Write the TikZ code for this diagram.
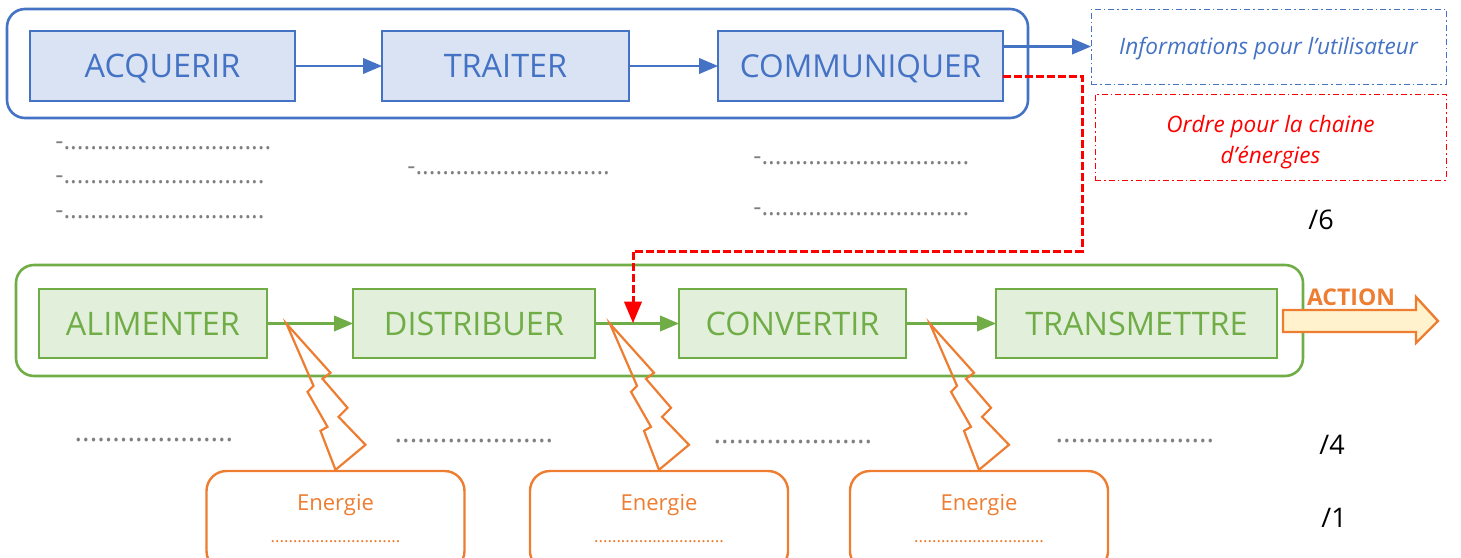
\documentclass[tikz,border=0pt]{standalone}
\usepackage{fontspec}
\setmainfont{Open Sans}
\usetikzlibrary{arrows}

\definecolor{bleu}{HTML}{4472C4}
\definecolor{bleuclair}{HTML}{DAE3F3}
\definecolor{vert}{HTML}{70AD47}
\definecolor{vertclair}{HTML}{E2EFDA}
\definecolor{orange}{HTML}{ED7D31}
\definecolor{orangeclair}{HTML}{FFF2CC}
\definecolor{gris}{HTML}{7F7F7F}

\tikzset{
  titre/.style={font=\fontsize{16.2}{18}\selectfont, inner sep=0pt, outer sep=0pt, text height=11.6pt, text depth=0pt},
  cadre/.style={draw=#1, line width=1.3pt, rounded corners=9pt, inner sep=0pt},
  blocbleu/.style={titre, draw=bleu, fill=bleuclair, text=bleu, line width=1.3pt, minimum height=35pt},
  blocvert/.style={titre, draw=vert, fill=vertclair, text=vert, line width=1.3pt, minimum height=34.5pt},
  sortie/.style={draw=#1, line width=0.5pt, dash pattern=on 3pt off 1.5pt on 0.8pt off 1.5pt, inner sep=0pt, outer sep=0pt, text=#1, align=center, font=\fontsize{11.3}{15.5}\selectfont\itshape, execute at begin node={\rule{0pt}{10.8pt}}},
  fleche/.style={draw=#1, line width=1.2pt, -triangle 45},
  ligne/.style={text=gris, inner sep=0pt, anchor=west, font=\fontsize{12.6}{15}\selectfont},
  reponse/.style={text=gris, inner sep=0pt, font=\fontsize{14.2}{16}\selectfont},
  note/.style={inner sep=0pt, font=\fontsize{13.5}{16}\selectfont},
  source/.style={draw=orange, line width=1.2pt, rounded corners=10pt, minimum width=129pt, minimum height=50pt, inner sep=0pt},
  eclair/.style={draw=orange, line width=1.1pt, line join=miter}
}

\begin{document}
\begin{tikzpicture}[x=0.5pt,y=-0.5pt]
\useasboundingbox (0,0) rectangle (1461,557);
\clip (0,0) rectangle (1461,557);

% chaine d'information
\node[cadre=bleu, minimum width=510.5pt, minimum height=54.5pt] (info) at (517.5,63.5) {};
\node[blocbleu, minimum width=132.5pt] (acquerir) at (162.5,66) {ACQUERIR};
\node[blocbleu, minimum width=123.5pt] (traiter) at (505.5,66) {TRAITER};
\node[blocbleu, minimum width=142.5pt, font=\fontsize{15.8}{18}\selectfont] (communiquer) at (860.5,66) {COMMUNIQUER};
\node[sortie=bleu, minimum width=177.5pt, minimum height=37.5pt] (utilisateur) at (1268.5,46.5) {Informations pour l’utilisateur};
\node[sortie=red, minimum width=175.5pt, minimum height=43pt] (ordre) at (1270.5,137) {\rule{0pt}{13.8pt}Ordre pour la chaine\\d’énergies};

\draw[fleche=bleu] (acquerir.east) -- (traiter.west);
\draw[fleche=bleu] (traiter.east) -- (communiquer.west);
\draw[fleche=bleu] (communiquer.east |- utilisateur.west) -- (utilisateur.west);

% lignes a completer
\node[ligne] (l1) at (55,146) {-...............................};
\node[ligne] (l2) at (55,180) {-..............................};
\node[ligne] (l3) at (55,215) {-..............................};
\node[ligne] (l4) at (407,171) {-.............................};
\node[ligne] (l5) at (753,161) {-...............................};
\node[ligne] (l6) at (753,212) {-...............................};
\node[note] (n6) at (1321,220) {/6};

% chaine d'energie
\node[cadre=vert, minimum width=643.5pt, minimum height=55.5pt] (energie) at (659.5,320.5) {};
\node[blocvert, minimum width=114pt] (alimenter) at (153,323.5) {ALIMENTER};
\node[blocvert, minimum width=121pt] (distribuer) at (474,323.5) {DISTRIBUER};
\node[blocvert, minimum width=113.5pt] (convertir) at (792.5,323.5) {CONVERTIR};
\node[blocvert, minimum width=140.5pt] (transmettre) at (1136.5,323.5) {TRANSMETTRE};

\draw[fleche=vert] (alimenter.east) -- (distribuer.west);
\draw[fleche=vert] (distribuer.east) -- (convertir.west);
\draw[fleche=vert] (convertir.east) -- (transmettre.west);

% ordre
\coordinate (coude) at (1082,251);
\coordinate (entree) at (633,323);
\draw[fleche=red, line width=1.5pt, dash pattern=on 4pt off 1.5pt] ([yshift=-5pt]communiquer.east) -| (coude) -| (entree);

% action
\filldraw[fill=orangeclair, draw=orange, line width=1.2pt] (1283,310) -- (1416,310) -- (1416,297) -- (1438,321) -- (1416,343) -- (1416,332) -- (1283,332) -- cycle;
\node[text=orange, inner sep=0pt, font=\fontsize{11.5}{12}\selectfont\bfseries] (action) at (1351,297) {ACTION};

% sources
\foreach \nom/\x in {a/335.5,b/659,c/979} {
  \node[source] (source\nom) at (\x,521) {};
  \node[text=orange, inner sep=0pt, font=\fontsize{11}{12}\selectfont] (label\nom) at (\x,505) {Energie};
  \node[text=orange, inner sep=0pt, font=\fontsize{8.4}{10}\selectfont] (vide\nom) at (\x,542) {.............................};
  \draw[eclair, shift={(source\nom.north)}] (0,0) -- (30,-25) -- (3,-53) -- (12,-62) -- (-13,-91) -- (-5,-97) -- (-49,-146) -- (-22,-84) -- (-28,-78) -- (-8,-43) -- (-15,-39) -- cycle;
}

\node[reponse] (r1) at (154,440) {.....................};
\node[reponse] (r2) at (474,441) {.....................};
\node[reponse] (r3) at (793,442) {.....................};
\node[reponse] (r4) at (1135,441) {.....................};
\node[note] (n4) at (1332,445) {/4};
\node[note] (n1) at (1334,518) {/1};
\end{tikzpicture}
\end{document}
